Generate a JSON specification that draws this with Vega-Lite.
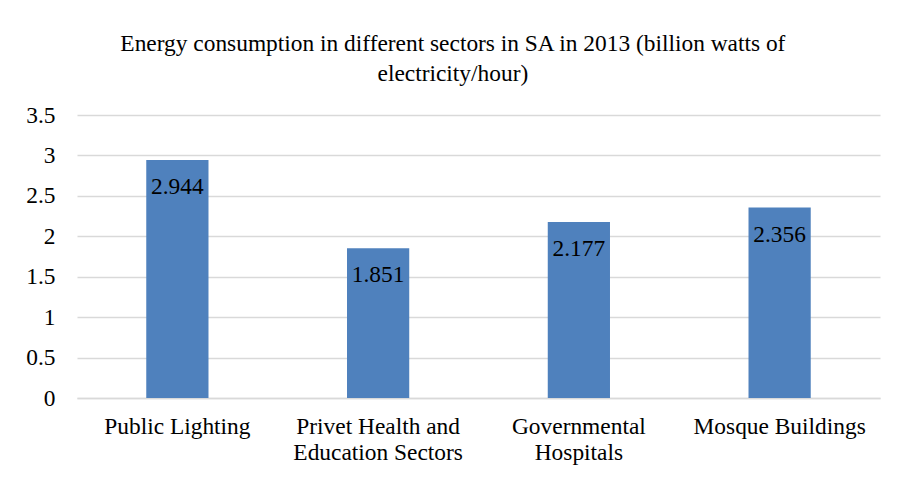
{
  "$schema": "https://vega.github.io/schema/vega-lite/v6.json",
  "width": 803,
  "height": 283,
  "autosize": {"type": "none"},
  "padding": {"left": 77, "top": 115, "right": 19, "bottom": 82},
  "background": "white",
  "title": {
    "text": ["Energy consumption in different sectors in SA in 2013 (billion watts of", "electricity/hour)"],
    "font": "'Liberation Serif', 'Times New Roman', serif",
    "fontSize": 23.4,
    "fontWeight": "normal",
    "color": "#000000",
    "lineHeight": 30,
    "anchor": "middle",
    "frame": "bounds",
    "offset": 17
  },
  "data": {
    "values": [
      {"sector": "Public Lighting", "value": 2.944},
      {"sector": "Privet Health and Education Sectors", "value": 1.851},
      {"sector": "Governmental Hospitals", "value": 2.177},
      {"sector": "Mosque Buildings", "value": 2.356}
    ]
  },
  "encoding": {
    "x": {
      "field": "sector",
      "type": "nominal",
      "sort": null,
      "scale": {"paddingInner": 0.69, "paddingOuter": 0.345},
      "axis": {
        "title": null,
        "labelAngle": 0,
        "labelFont": "'Liberation Serif', 'Times New Roman', serif",
        "labelFontSize": 23.4,
        "labelColor": "#000000",
        "labelPadding": 17,
        "labelLineHeight": 26,
        "labelBaseline": "top",
        "ticks": false,
        "domainColor": "#D9D9D9",
        "domainWidth": 1.5,
        "labelExpr": "datum.label == 'Privet Health and Education Sectors' ? ['Privet Health and', 'Education Sectors'] : datum.label == 'Governmental Hospitals' ? ['Governmental', 'Hospitals'] : datum.label",
        "labelLimit": 0
      }
    },
    "y": {
      "field": "value",
      "type": "quantitative",
      "scale": {"domain": [0, 3.5], "nice": false},
      "axis": {
        "title": null,
        "values": [0, 0.5, 1, 1.5, 2, 2.5, 3, 3.5],
        "format": "~g",
        "labelFont": "'Liberation Serif', 'Times New Roman', serif",
        "labelFontSize": 23.4,
        "labelColor": "#000000",
        "labelPadding": 22,
        "ticks": false,
        "domain": false,
        "gridColor": "#D9D9D9",
        "gridWidth": 1.5
      }
    }
  },
  "layer": [
    {"mark": {"type": "bar", "color": "#4F81BD"}},
    {
      "mark": {
        "type": "text",
        "baseline": "top",
        "dy": 16,
        "font": "'Liberation Serif', 'Times New Roman', serif",
        "fontSize": 23.4,
        "color": "#000000"
      },
      "encoding": {"text": {"field": "value", "type": "quantitative", "format": ".3f"}}
    }
  ],
  "config": {"view": {"stroke": null}}
}
